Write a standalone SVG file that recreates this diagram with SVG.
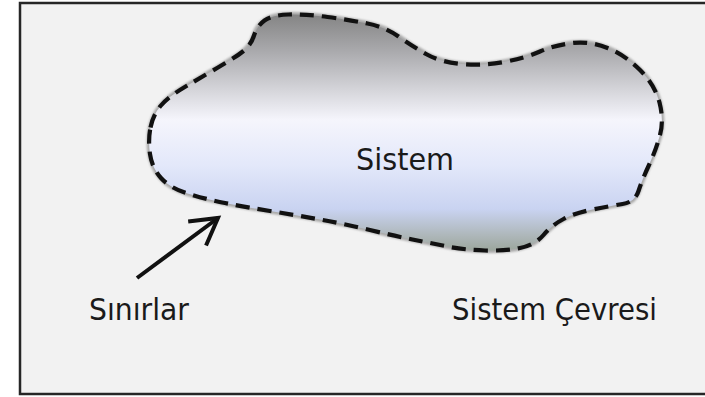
<svg xmlns="http://www.w3.org/2000/svg" width="705" height="397" viewBox="0 0 705 397">
  <style>
    .label { font-family: "DejaVu Sans", "Liberation Sans", sans-serif; font-size: 30px; fill: #1a1a1a; }
    .halo { fill: none; stroke: #a9a9a9; stroke-width: 5; }
    .edge { fill: none; stroke: #111; stroke-width: 4.2; stroke-dasharray: 14 8; stroke-linecap: butt; }
    .arrow { fill: none; stroke: #111; stroke-width: 4; }
  </style>
  <defs>
    <linearGradient id="blobFill" gradientUnits="userSpaceOnUse" x1="0" y1="14" x2="0" y2="252">
      <stop offset="0" stop-color="#848484"/>
      <stop offset="0.15" stop-color="#a8a8ab"/>
      <stop offset="0.32" stop-color="#d5d5da"/>
      <stop offset="0.445" stop-color="#f5f5fc"/>
      <stop offset="0.635" stop-color="#e3e8fa"/>
      <stop offset="0.82" stop-color="#c9d3f1"/>
      <stop offset="0.93" stop-color="#aeb7ba"/>
      <stop offset="1" stop-color="#9aa59a"/>
    </linearGradient>
    <filter id="soft" x="-10%" y="-10%" width="120%" height="120%">
      <feGaussianBlur stdDeviation="1"/>
    </filter>
    <marker id="openHead" markerUnits="userSpaceOnUse" viewBox="-32 -20 40 40" markerWidth="40" markerHeight="40" refX="0" refY="0" orient="auto">
      <path d="M-26,-15 L0,0 L-26,15" fill="none" stroke="#111" stroke-width="4"/>
    </marker>
    <path id="blobShape" d="M150.5,127.5 Q153,115 160.5,106 Q168,97 184,87.5 Q200,78 218,67.5 Q236,57 243.5,51 Q251,45 254,35.5 Q257,26 264.5,20.5 Q272,15 288.5,14.5 Q305,14 327.5,17 Q350,20 367.5,23.5 Q385,27 398.5,36.5 Q412,46 426,54 Q440,62 461.5,64 Q483,66 504,62 Q525,58 540,51.5 Q555,45 572.5,43 Q590,41 607.5,48 Q625,55 640,70 Q655,85 659.5,102.5 Q664,120 660,135 Q656,150 649,165 Q642,180 638.5,191 Q635,202 622.5,204 Q610,206 592.5,209.5 Q575,213 563.5,219 Q552,225 543.5,235 Q535,245 520,248 Q505,251 485,250.5 Q465,250 447.5,246.5 Q430,243 412.5,239.5 Q395,236 370,230 Q345,224 320,219.5 Q295,215 270,211 Q245,207 225,203 Q205,199 187.5,193.5 Q170,188 161,178 Q152,168 150,154 Q148,140 150.5,127.5 Z"/>
  </defs>

  <!-- page background and frame (right side runs past the canvas) -->
  <rect x="0" y="0" width="705" height="397" fill="#ffffff"/>
  <g id="frame">
    <rect x="20" y="3" width="700" height="391" fill="#f2f2f2" stroke="#262626" stroke-width="2.5"/>
  </g>

  <!-- the system: blob with dashed boundary -->
  <g id="system">
    <use href="#blobShape" class="halo" filter="url(#soft)"/>
    <use href="#blobShape" fill="url(#blobFill)"/>
    <use href="#blobShape" class="edge"/>
    <text class="label" x="356" y="170" textLength="98" lengthAdjust="spacingAndGlyphs">Sistem</text>
  </g>

  <g id="boundaries-label">
    <text class="label" x="89" y="320" textLength="100" lengthAdjust="spacingAndGlyphs">Sınırlar</text>
  </g>

  <g id="environment-label">
    <text class="label" x="452" y="320" textLength="205" lengthAdjust="spacingAndGlyphs">Sistem Çevresi</text>
  </g>

  <!-- pointer from the boundary label to the blob edge -->
  <g id="connectors">
    <line class="arrow" x1="137" y1="278" x2="218" y2="218" marker-end="url(#openHead)"/>
  </g>
</svg>
